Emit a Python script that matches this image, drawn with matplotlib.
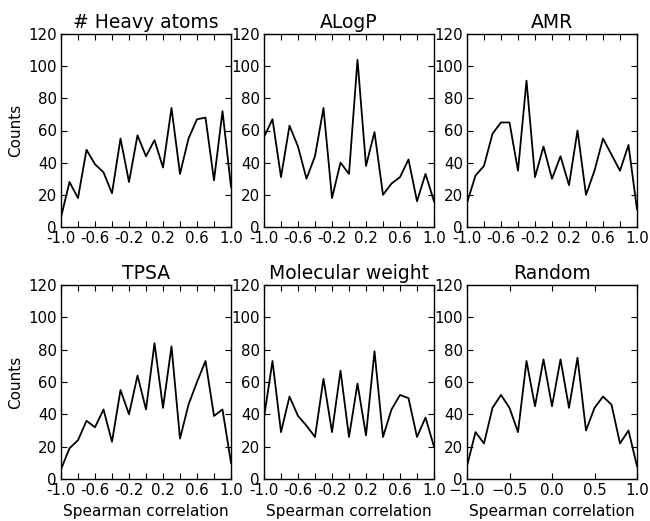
import numpy as np
import matplotlib
matplotlib.use("Agg")
import matplotlib.pyplot as plt

# spearman correlation bins, -1.0 .. 1.0 in steps of 0.1
bins = np.round(np.linspace(-1.0, 1.0, 21), 2)

titles = ["# Heavy atoms", "ALogP", "AMR", "TPSA", "Molecular weight", "Random"]

heavy_atoms = [6, 28, 18, 48, 39, 34, 21, 55, 28, 57, 44, 54, 37, 74, 33, 55, 67, 68, 29, 72, 25]
alogp = [56, 67, 31, 63, 50, 30, 44, 74, 18, 40, 33, 104, 38, 59, 20, 27, 31, 42, 16, 33, 16]
amr = [15, 32, 38, 58, 65, 65, 35, 91, 31, 50, 30, 44, 26, 60, 20, 35, 55, 45, 35, 51, 11]
tpsa = [6, 19, 24, 36, 32, 43, 23, 55, 40, 64, 43, 84, 44, 82, 25, 46, 60, 73, 39, 43, 10]
mol_weight = [38, 73, 29, 51, 39, 33, 26, 62, 29, 67, 26, 59, 27, 79, 26, 43, 52, 50, 26, 38, 20]
random_desc = [8, 29, 22, 44, 52, 44, 29, 73, 45, 74, 45, 74, 44, 75, 30, 44, 51, 46, 22, 30, 8]

series = [heavy_atoms, alogp, amr, tpsa, mol_weight, random_desc]

xtick_pos = np.round(np.linspace(-1.0, 1.0, 11), 2)
xtick_labels = ["-1.0", "", "-0.6", "", "-0.2", "", "0.2", "", "0.6", "", "1.0"]

plt.rcParams["font.family"] = "DejaVu Sans"

fig = plt.figure(figsize=(6.5, 5.21), dpi=100)

W, H = 650.0, 521.0
lefts = [61, 264, 467]
width = 170
rows = [(34, 227), (285, 479)]

for i, (title, counts) in enumerate(zip(titles, series)):
    r, c = divmod(i, 3)
    top, bottom = rows[r]
    ax = fig.add_axes([lefts[c] / W, (H - bottom) / H, width / W, (bottom - top) / H])
    ax.plot(bins, counts, color="black", linewidth=1.3)
    ax.set_xlim(-1.0, 1.0)
    ax.set_ylim(0, 120)
    ax.set_yticks(np.arange(0, 121, 20))
    if title != "Random":
        ax.set_xticks(xtick_pos)
        ax.set_xticklabels(xtick_labels)
    else:
        ax.set_xticks([-1.0, -0.5, 0.0, 0.5, 1.0])
    ax.tick_params(direction="in", top=True, right=True, length=4, width=0.8,
                   labelsize=10.8, pad=3)
    ax.set_title(title, fontsize=13.5, pad=4)
    if c == 0:
        ax.set_ylabel("Counts", fontsize=11)
    if r == 1:
        ax.set_xlabel("Spearman correlation", fontsize=11)
    for s in ax.spines.values():
        s.set_linewidth(1.0)

fig.savefig("out.png", dpi=100)
